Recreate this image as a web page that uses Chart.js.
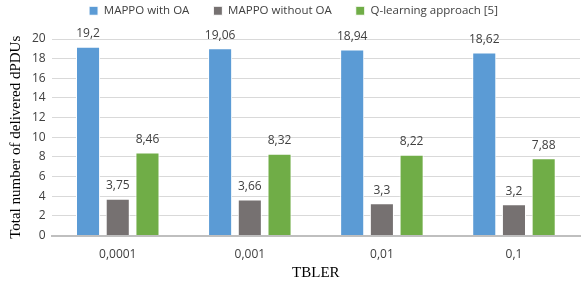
<!DOCTYPE html>
<html>
<head>
<meta charset="utf-8">
<script src="https://cdn.jsdelivr.net/npm/chart.js@4/dist/chart.umd.min.js"></script>
<style>
  body { margin: 0; background: #fff; }
  #wrap { width: 581px; height: 289px; }
</style>
</head>
<body>
<div id="wrap"><canvas id="myChart"></canvas></div>
<script>
var categories = ['0,0001', '0,001', '0,01', '0,1'];
var withOA = [19.2, 19.06, 18.94, 18.62];
var withoutOA = [3.75, 3.66, 3.3, 3.2];
var qLearning = [8.46, 8.32, 8.22, 7.88];
var yTicks = [0, 2, 4, 6, 8, 10, 12, 14, 16, 18, 20];

// draws the value above every bar, with a decimal comma
var valueLabels = {
    id: 'valueLabels',
    afterDatasetsDraw: function(chart) {
        var ctx = chart.ctx;
        ctx.save();
        ctx.font = '12px "Open Sans", sans-serif';
        ctx.fillStyle = '#404040';
        ctx.textAlign = 'center';
        ctx.textBaseline = 'bottom';
        chart.data.datasets.forEach(function(ds, i) {
            chart.getDatasetMeta(i).data.forEach(function(bar, j) {
                ctx.fillText(String(ds.data[j]).replace('.', ','), bar.x, bar.y - 7);
            });
        });
        ctx.restore();
    }
};

// legend padding is also the gap between items, so fix its height here
var legendHeight = {
    id: 'legendHeight',
    beforeInit: function(chart) {
        var fit = chart.legend.fit;
        chart.legend.fit = function() {
            fit.bind(chart.legend)();
            this.height = 58;
        };
    }
};

var ctx = document.getElementById('myChart').getContext('2d');
var myChart = new Chart(ctx, {
    type: 'bar',
    data: {
        labels: categories,
        datasets: [
            { label: 'MAPPO with OA', data: withOA, backgroundColor: '#5B9BD5', borderColor: '#ffffff', borderWidth: 1 },
            { label: 'MAPPO without OA', data: withoutOA, backgroundColor: '#767171', borderColor: '#ffffff', borderWidth: 1 },
            { label: 'Q-learning approach [5]', data: qLearning, backgroundColor: '#70AD47', borderColor: '#ffffff', borderWidth: 1 }
        ]
    },
    options: {
        responsive: true,
        maintainAspectRatio: false,
        animation: false,
        layout: { padding: { left: 7, right: 1, top: -19, bottom: 8 } },
        categoryPercentage: 0.675,
        barPercentage: 0.81,
        plugins: {
            legend: {
                position: 'top',
                labels: {
                    boxWidth: 9,
                    boxHeight: 9,
                    padding: 24,
                    color: '#404040',
                    font: { family: '"Open Sans", sans-serif', size: 11.5 }
                }
            },
            tooltip: { enabled: false }
        },
        scales: {
            x: {
                grid: { display: false },
                border: { color: '#bfbfbf', width: 2 },
                ticks: { color: '#404040', font: { family: '"Open Sans", sans-serif', size: 12 }, padding: 4 },
                title: {
                    display: true,
                    text: 'TBLER',
                    color: '#000',
                    font: { family: '"Liberation Serif", serif', size: 15, lineHeight: 1 },
                    padding: { top: 0, bottom: 0 }
                }
            },
            y: {
                min: 0,
                max: 20,
                afterBuildTicks: function(axis) {
                    axis.ticks = yTicks.map(function(v) { return { value: v }; });
                },
                grid: { color: '#d9d9d9', drawTicks: false },
                border: { display: false },
                ticks: { color: '#404040', font: { family: '"Open Sans", sans-serif', size: 12 }, padding: 6 },
                title: {
                    display: true,
                    text: 'Total number of delivered dPDUs',
                    color: '#000',
                    font: { family: '"Liberation Serif", serif', size: 15 },
                    padding: { top: 0, bottom: 1 }
                }
            }
        }
    },
    plugins: [valueLabels, legendHeight]
});
</script>
</body>
</html>
